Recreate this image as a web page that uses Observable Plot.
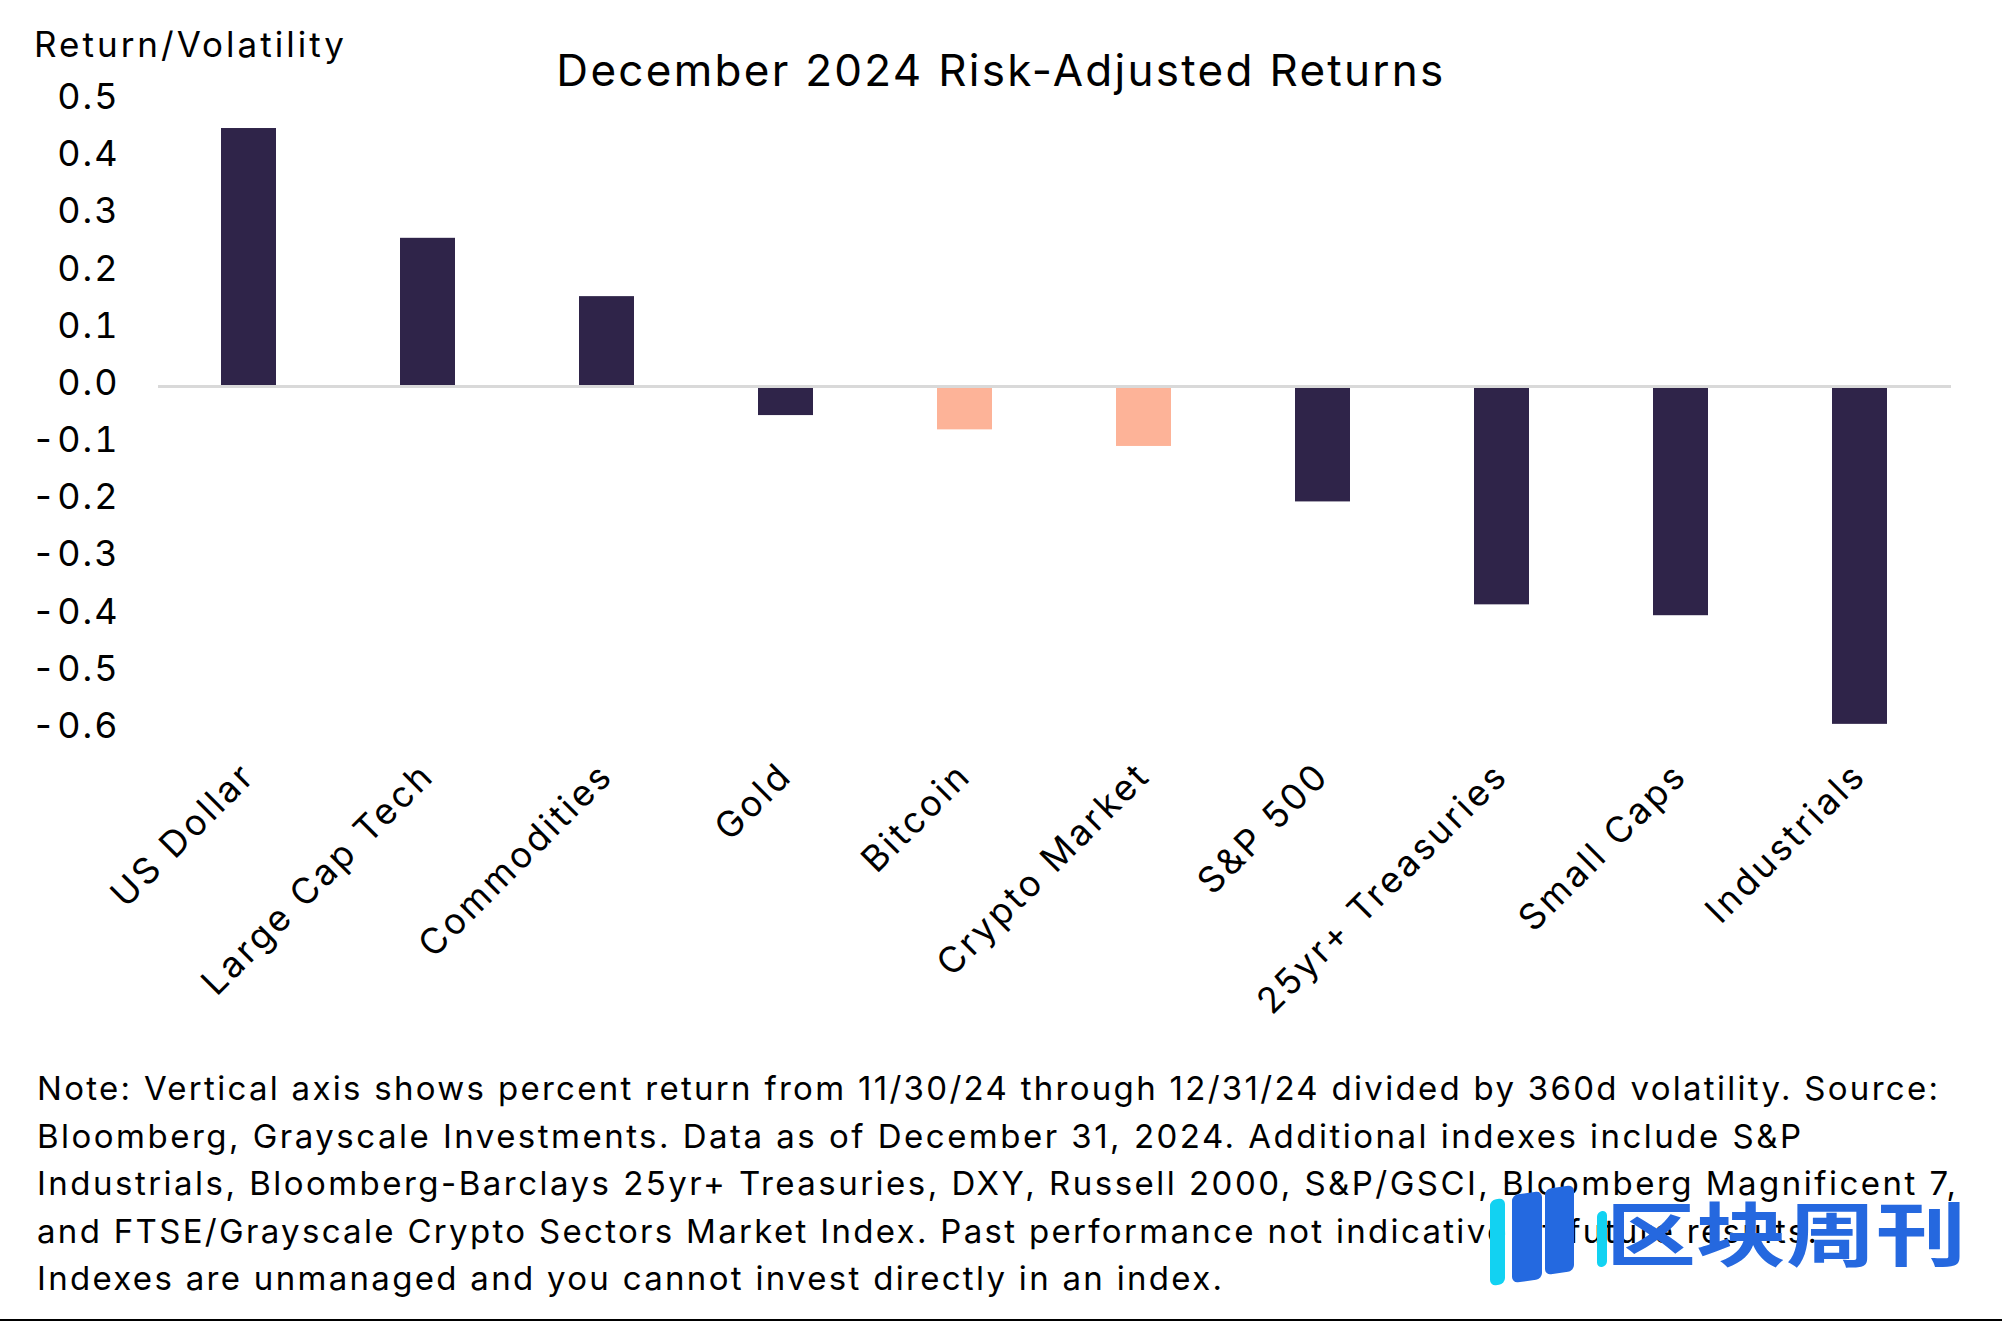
<!DOCTYPE html>
<html>
<head>
<meta charset="utf-8">
<script src="https://cdn.jsdelivr.net/npm/d3@7"></script>
<script src="https://cdn.jsdelivr.net/npm/@observablehq/plot@0.6"></script>
<style>
  html, body { margin: 0; padding: 0; background: #fff; }
  #page { position: relative; width: 2002px; height: 1321px; overflow: hidden; font-family: Inter, "Noto Sans", sans-serif; color: #000; background: #fff; }
  #chart { position: absolute; left: 0; top: 60px; z-index: 1; }
  #ylab { position: absolute; left: 34px; top: 24px; font-size: 35px; line-height: 40px; white-space: nowrap; z-index: 2; }
  #title { position: absolute; left: 0; width: 2002px; top: 45px; text-align: center; z-index: 2; }
  #title span { font-size: 44px; line-height: 50px; white-space: nowrap; }
  #note { position: absolute; left: 37px; top: 1065px; font-size: 33px; line-height: 47.6px; white-space: nowrap; z-index: 2; }
  #note div span { white-space: nowrap; }
  #rule { position: absolute; left: 0; width: 2002px; top: 1319px; height: 2px; background: #000; }
  #wm { position: absolute; left: 1488px; top: 1185px; width: 500px; height: 110px; z-index: 3; }
  #wm .bar { position: absolute; border-radius: 6px; transform: skewY(-8deg); }
  #wm .txt { position: absolute; left: 118px; top: 10px; font-family: "Noto Sans CJK SC", sans-serif; font-weight: 700; font-size: 90px; line-height: 90px; color: #2568df; transform: scaleY(0.78); transform-origin: left top; white-space: nowrap; }
  #chart g[aria-label="x-axis tick label"] text { letter-spacing: 3px; }
  #chart g[aria-label="y-axis tick label"] text { letter-spacing: 2px; }
</style>
</head>
<body>
<div id="page">
  <div id="chart"></div>
  <div id="ylab"><span>Return/Volatility</span></div>
  <div id="title"><span>December 2024 Risk-Adjusted Returns</span></div>
  <div id="note"></div>
  <div id="wm">
    <div class="bar" style="left:2px;top:14px;width:15px;height:86px;background:#12d2f2;"></div>
    <div class="bar" style="left:24px;top:8px;width:30px;height:88px;background:#2469e0;"></div>
    <div class="bar" style="left:57px;top:2px;width:29px;height:86px;background:#2469e0;"></div>
    <div class="bar" style="left:109px;top:26px;width:10px;height:56px;background:#12d2f2;"></div>
    <div class="txt">区块周刊</div>
  </div>
  <div id="rule"></div>
</div>
<script>
// ---- data ----
const categories = ["US Dollar", "Large Cap Tech", "Commodities", "Gold", "Bitcoin", "Crypto Market", "S&P 500", "25yr+ Treasuries", "Small Caps", "Industrials"];
const values = [0.451, 0.259, 0.157, -0.051, -0.076, -0.105, -0.202, -0.382, -0.401, -0.591];
const isCrypto = [false, false, false, false, true, true, false, false, false, false];
const yTicks = [-0.6, -0.5, -0.4, -0.3, -0.2, -0.1, 0.0, 0.1, 0.2, 0.3, 0.4, 0.5];
const noteLines = [
  "Note: Vertical axis shows percent return from 11/30/24 through 12/31/24 divided by 360d volatility. Source:",
  "Bloomberg, Grayscale Investments. Data as of December 31, 2024. Additional indexes include S&P",
  "Industrials, Bloomberg-Barclays 25yr+ Treasuries, DXY, Russell 2000, S&P/GSCI, Bloomberg Magnificent 7,",
  "and FTSE/Grayscale Crypto Sectors Market Index. Past performance not indicative of future results.",
  "Indexes are unmanaged and you cannot invest directly in an index."
];
// widths of the text lines (px)
const noteWidths = [1901, 1764, 1919, 1780, 1185];

const data = categories.map((c, i) => ({category: c, value: values[i], group: isCrypto[i] ? "crypto" : "other"}));

const W = 2002, H = 980;
const chart = Plot.plot({
  width: W,
  height: H,
  marginLeft: 158,
  marginRight: 51,
  marginTop: 40,
  marginBottom: 311,
  style: {fontFamily: "Inter, 'Noto Sans', sans-serif", color: "#000", background: "transparent", overflow: "visible"},
  x: {domain: categories, paddingInner: 0.69, paddingOuter: 0.345, axis: null},
  y: {domain: [-0.6, 0.5], axis: null},
  color: {domain: ["other", "crypto"], range: ["#2f2449", "#fdb398"]},
  marks: [
    Plot.barY(data, {x: "category", y: "value", fill: "group"}),
    Plot.ruleY([0], {stroke: "#d9d9d9", strokeWidth: 3}),
    Plot.axisY(yTicks, {tickSize: 0, tickPadding: 39, fontSize: 36, tickFormat: d => d.toFixed(1), dy: -3, label: null}),
    Plot.axisX({tickSize: 0, tickPadding: 40, tickRotate: -45, fontSize: 36, label: null})
  ]
});
document.getElementById("chart").appendChild(chart);

const note = document.getElementById("note");
noteLines.forEach(t => { const d = document.createElement("div"); const s = document.createElement("span"); s.textContent = t; d.appendChild(s); note.appendChild(d); });

function fit(span, target) {
  span.style.letterSpacing = "0px";
  const w = span.getBoundingClientRect().width;
  const n = span.textContent.length;
  span.style.letterSpacing = ((target - w) / Math.max(1, n - 1)) + "px";
}
function fitAll() {
  document.querySelectorAll("#note span").forEach((s, i) => fit(s, noteWidths[i]));
  fit(document.querySelector("#title span"), 887);
  fit(document.querySelector("#ylab span"), 310);
}
fitAll();
if (document.fonts && document.fonts.ready) document.fonts.ready.then(fitAll);
</script>
</body>
</html>
